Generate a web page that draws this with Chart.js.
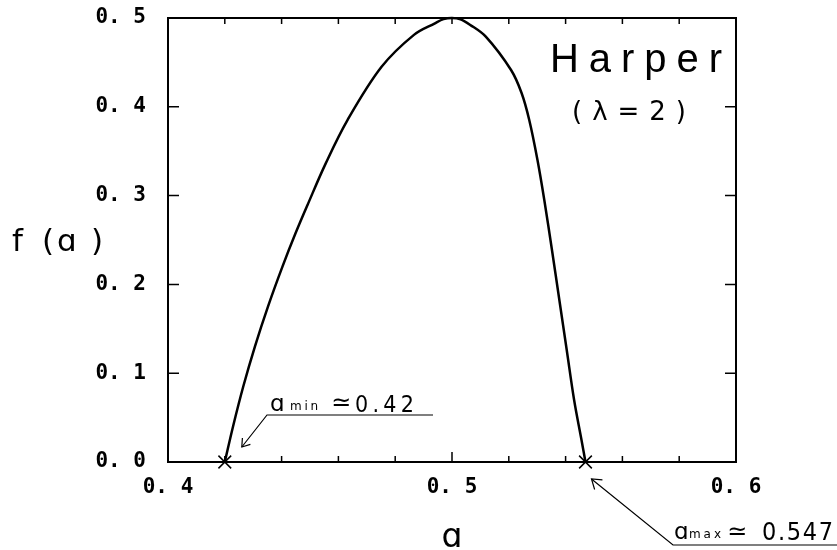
<!DOCTYPE html>
<html>
<head>
<meta charset="utf-8">
<script src="https://cdn.jsdelivr.net/npm/chart.js@4.4.1/dist/chart.umd.min.js"></script>
<style>
  html, body { margin: 0; padding: 0; background: #fff; }
</style>
</head>
<body>
<canvas id="spectrum" width="837" height="550"></canvas>
<script>
// f(alpha) spectrum of the Harper model at lambda = 2
const alphaLeft = [0.42, 0.4229, 0.4265, 0.4306, 0.4352, 0.4403, 0.4449, 0.4492, 0.4555, 0.4632, 0.4752, 0.4866, 0.494, 0.497, 0.5];
const fLeft = [0.0, 0.04, 0.085, 0.13, 0.175, 0.22, 0.2575, 0.29, 0.336, 0.385, 0.445, 0.481, 0.494, 0.4987, 0.5];
const alphaRight = [0.503, 0.5063, 0.5119, 0.5208, 0.5245, 0.5272, 0.5301, 0.5325, 0.5352, 0.5378, 0.5404, 0.543, 0.5456, 0.547];
const fRight = [0.4985, 0.4925, 0.479, 0.4414, 0.4155, 0.3851, 0.34, 0.295, 0.2387, 0.1824, 0.1261, 0.0698, 0.0248, 0.0];
const aMin = 0.42;
const aMax = 0.547;
const xLabels = [0.4, 0.5, 0.6];
const yLabels = [0, 0.1, 0.2, 0.3, 0.4, 0.5];

const curve = alphaLeft.map((a, i) => ({ x: a, y: fLeft[i] }))
  .concat(alphaRight.map((a, i) => ({ x: a, y: fRight[i] })));

const DIGITS = '"Liberation Sans Narrow", "DejaVu Sans Condensed", "Liberation Sans", sans-serif';
const SANS = '"DejaVu Sans", "Liberation Sans", sans-serif';

function fmt(v) {
  return v.toFixed(1).replace('.', '. ');
}

function isLabel(v) {
  return xLabels.some(t => Math.abs(t - v) < 1e-6);
}

// spread the characters of s evenly between x0 and x1
function spread(ctx, s, x0, x1, y) {
  const chars = [...s];
  const widths = chars.map(c => ctx.measureText(c).width);
  const total = widths.reduce((a, b) => a + b, 0);
  const gap = chars.length > 1 ? (x1 - x0 - total) / (chars.length - 1) : 0;
  let x = x0;
  chars.forEach((c, i) => { ctx.fillText(c, x, y); x += widths[i] + gap; });
}

function arrowHead(ctx, tx, ty, fx, fy, len) {
  const ang = Math.atan2(fy - ty, fx - tx);
  ctx.beginPath();
  ctx.moveTo(tx + len * Math.cos(ang - 0.6), ty + len * Math.sin(ang - 0.6));
  ctx.lineTo(tx, ty);
  ctx.lineTo(tx + len * Math.cos(ang + 0.6), ty + len * Math.sin(ang + 0.6));
  ctx.stroke();
}

function noPad(s) {
  s.paddingTop = 0;
  s.paddingBottom = 0;
  s.paddingLeft = 0;
  s.paddingRight = 0;
}

const framePlugin = {
  id: 'framePlugin',
  beforeDatasetsDraw(chart) {
    const { ctx, chartArea: a, scales: { x, y } } = chart;
    ctx.save();
    ctx.strokeStyle = '#000';
    ctx.lineWidth = 2;
    ctx.strokeRect(a.left, a.top, a.right - a.left, a.bottom - a.top);
    ctx.lineWidth = 1.5;
    ctx.beginPath();
    x.ticks.forEach(t => {
      const px = x.getPixelForValue(t.value);
      if (px <= a.left + 1 || px >= a.right - 1) return;
      const len = Math.abs(t.value - 0.5) < 1e-6 ? 10 : 6;
      ctx.moveTo(px, a.bottom); ctx.lineTo(px, a.bottom - len);
      ctx.moveTo(px, a.top); ctx.lineTo(px, a.top + 6);
    });
    y.ticks.forEach(t => {
      const py = y.getPixelForValue(t.value);
      if (py <= a.top + 1 || py >= a.bottom - 1) return;
      ctx.moveTo(a.left, py); ctx.lineTo(a.left + 11, py);
      ctx.moveTo(a.right, py); ctx.lineTo(a.right - 11, py);
    });
    ctx.stroke();
    ctx.restore();
  },
  afterDraw(chart) {
    const { ctx, scales: { x, y } } = chart;
    ctx.save();
    ctx.fillStyle = '#000';
    ctx.strokeStyle = '#000';
    ctx.textBaseline = 'alphabetic';
    ctx.textAlign = 'left';

    // axis titles
    ctx.font = '31px ' + SANS;
    [['f', 12], ['(', 42], ['\u0251', 57], [')', 91]].forEach(([c, px]) => ctx.fillText(c, px, 251));
    ctx.font = '33px ' + SANS;
    ctx.textAlign = 'center';
    ctx.fillText('\u0251', x.getPixelForValue(0.5), 547);
    ctx.textAlign = 'left';

    // model name
    ctx.font = '40px "Liberation Sans", sans-serif';
    spread(ctx, 'Harper', 550, 722, 72);
    ctx.font = '26px ' + SANS;
    spread(ctx, '(\u03bb=2)', 572, 686, 120);

    ctx.lineWidth = 1.2;

    // alpha_min note
    const x0 = x.getPixelForValue(aMin), y0 = y.getPixelForValue(0);
    const tip0 = [x0 + 17, y0 - 15];
    ctx.beginPath();
    ctx.moveTo(433, 415); ctx.lineTo(267, 415); ctx.lineTo(tip0[0], tip0[1]);
    ctx.stroke();
    arrowHead(ctx, tip0[0], tip0[1], 267, 415, 9);
    ctx.font = '23px ' + SANS;
    ctx.fillText('\u0251', 270, 411);
    ctx.font = '12px ' + SANS;
    spread(ctx, 'min', 290, 318, 410);
    ctx.font = '24px ' + SANS;
    ctx.fillText('\u2243', 331, 410);
    ctx.font = '23px ' + DIGITS;
    spread(ctx, aMin.toFixed(2), 355, 414, 412);

    // alpha_max note
    const x1 = x.getPixelForValue(aMax);
    const tip1 = [x1 + 6, y0 + 17];
    ctx.beginPath();
    ctx.moveTo(837, 545); ctx.lineTo(673, 545); ctx.lineTo(tip1[0], tip1[1]);
    ctx.stroke();
    arrowHead(ctx, tip1[0], tip1[1], 673, 545, 11);
    ctx.font = '23px ' + SANS;
    ctx.fillText('\u0251', 674, 539);
    ctx.font = '12px ' + SANS;
    spread(ctx, 'max', 689, 721, 538);
    ctx.font = '24px ' + SANS;
    ctx.fillText('\u2243', 727, 539);
    ctx.font = '25px ' + DIGITS;
    spread(ctx, aMax.toFixed(3), 762, 833, 540);

    ctx.restore();
  }
};

new Chart(document.getElementById('spectrum'), {
  type: 'scatter',
  data: {
    datasets: [{
      data: curve,
      showLine: true,
      borderColor: '#000',
      borderWidth: 2.5,
      pointRadius: 0,
      tension: 0.35,
      clip: false
    }, {
      data: [{ x: aMin, y: 0 }, { x: aMax, y: 0 }],
      pointStyle: 'crossRot',
      pointRadius: 9,
      borderColor: '#000',
      borderWidth: 1.5,
      clip: false
    }]
  },
  options: {
    responsive: false,
    animation: false,
    layout: { padding: { top: 18, right: 101, left: 0, bottom: 0 } },
    plugins: {
      legend: { display: false },
      tooltip: { enabled: false }
    },
    scales: {
      x: {
        type: 'linear',
        min: 0.4,
        max: 0.6,
        afterFit(s) { s.height = 88; noPad(s); },
        grid: { display: false, drawTicks: false },
        border: { display: false },
        ticks: {
          stepSize: 0.02,
          autoSkip: false,
          maxRotation: 0,
          padding: 13,
          color: '#000',
          font: { family: 'DejaVu Sans Mono', size: 21, weight: 'bold' },
          callback: v => isLabel(v) ? fmt(v) : ''
        }
      },
      y: {
        type: 'linear',
        min: 0,
        max: 0.5,
        afterFit(s) { s.width = 168; noPad(s); },
        afterBuildTicks(s) { s.ticks = yLabels.map(v => ({ value: v })); },
        grid: { display: false, drawTicks: false },
        border: { display: false },
        ticks: {
          padding: 22,
          color: '#000',
          font: { family: 'DejaVu Sans Mono', size: 21, weight: 'bold' },
          callback: v => fmt(v)
        }
      }
    }
  },
  plugins: [framePlugin]
});
</script>
</body>
</html>
